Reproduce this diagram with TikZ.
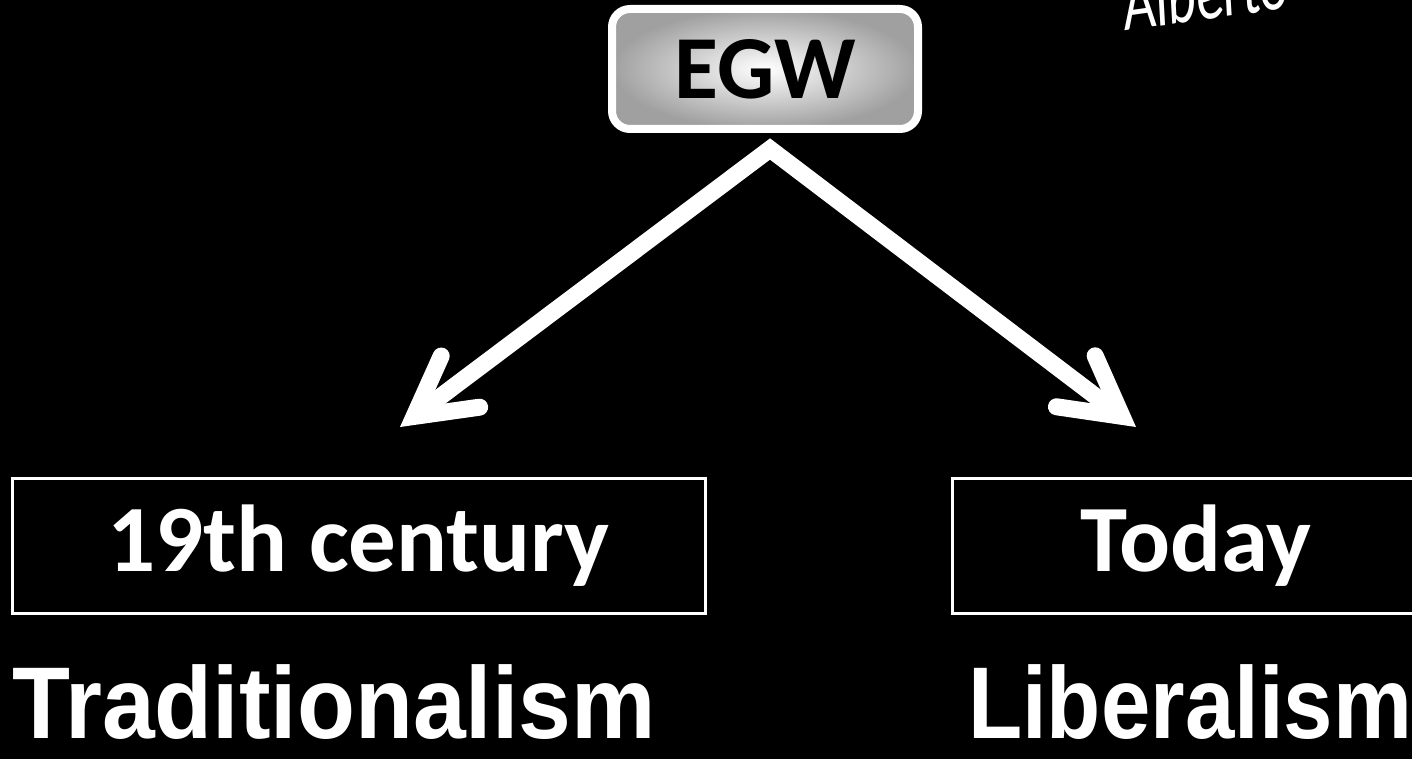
\documentclass[tikz,border=0pt]{standalone}
\usepackage{fontspec}
\setmainfont{Carlito}
\newfontfamily\arialfont{Liberation Sans}
\usetikzlibrary{arrows.meta,calc}
\definecolor{edgegray}{RGB}{160,160,160}
\tikzset{
  era/.style={draw=white, line width=3pt, minimum width=693pt, minimum height=135pt, inner sep=0pt,
    text=white, font=\fontsize{95}{100}\selectfont\bfseries},
  egwbox/.style={draw=white, line width=8pt, rounded corners=18pt, minimum width=306pt, minimum height=120pt,
    inner sep=0pt, inner color=white, outer color=edgegray, text=black, font=\fontsize{90}{95}\selectfont\bfseries},
  ism/.style={text=white, font=\arialfont\fontsize{102}{105}\selectfont\bfseries, inner sep=0pt, anchor=base},
  barb/.tip={Straight Barb[length=58pt, width=64pt, line cap=round, line join=miter]},
  bigarrow/.style={draw=white, line width=17pt, line join=miter, barb-barb},
  sig/.style={text=white, font=\itshape\fontsize{80}{80}\selectfont, inner sep=0pt, anchor=base west}
}
\begin{document}
\begin{tikzpicture}[x=1pt,y=-1pt]
\useasboundingbox (0,0) rectangle (1412,759);
\fill[black] (0,0) rectangle (1412,759);
\clip (0,0) rectangle (1412,759);
% signature
\node[sig, rotate=8, xscale=0.7] (signature) at (1126,31) {Alberto};
% top box
\node[egwbox] (egw) at (765,69) {EGW};
% era boxes
\node[era] (c19) at (358.5,546) {19th century};
\node[era, minimum width=488pt] (today) at (1196,545.5) {Today};
% ism labels
\node[ism, xscale=0.93] (trad) at (334,738) {Traditionalism};
\node[ism, xscale=0.87] (lib) at (1190,738) {Liberalism};
% arrows
\coordinate (apex) at ($(egw.south)+(5,16)$);
\coordinate (tipL) at (400,427);
\coordinate (tipR) at (1136,427);
\draw[bigarrow] (tipL) -- (apex) -- (tipR);
\end{tikzpicture}
\end{document}
